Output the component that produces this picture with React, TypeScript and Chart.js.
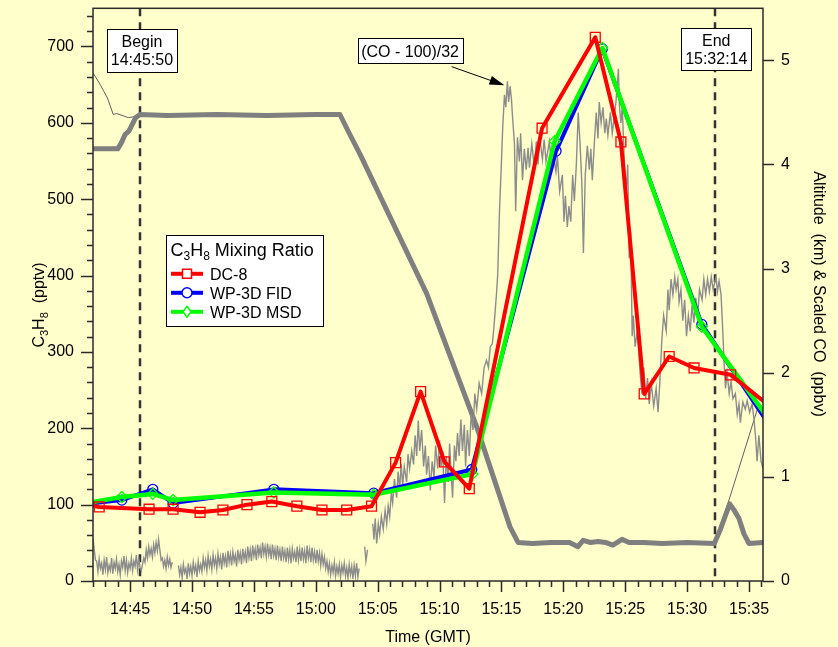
import React, { useEffect, useRef } from "react";
import { Chart, registerables } from "chart.js";

Chart.register(...registerables);

const FONT = '"Liberation Sans", Arial, Helvetica, sans-serif';
const BG = "#FFFFCC";

// Time axis: minutes after 14:00 GMT
const X_MIN = 42;
const X_MAX = 96.13;
const X_TICK_VALUES = [45, 50, 55, 60, 65, 70, 75, 80, 85, 90, 95];
const X_TICK_LABELS = ["14:45", "14:50", "14:55", "15:00", "15:05", "15:10", "15:15", "15:20", "15:25", "15:30", "15:35"];
const Y_MAX = 750;
const Y_TICK_VALUES = [0, 100, 200, 300, 400, 500, 600, 700];
const Y2_MAX = 5.5;
const Y2_TICK_VALUES = [0, 1, 2, 3, 4, 5];

const BEGIN_TIME = 45 + 50 / 60;
const BEGIN_LABEL = ["Begin", "14:45:50"];
const END_TIME = 92 + 14 / 60;
const END_LABEL = ["End", "15:32:14"];
const CO_LABEL = "(CO - 100)/32";

const SERIES_NAMES = ["DC-8", "WP-3D FID", "WP-3D MSD"];

// C3H8 mixing ratio (pptv)
const DC8_TIME = [41.5, 42.5, 46.53, 48.47, 50.65, 52.5, 54.44, 56.45, 58.47, 60.5, 62.5, 64.5, 66.45, 68.47, 70.4, 72.4, 78.28, 82.58, 84.65, 86.53, 88.55, 90.56, 93.52, 96.6];
const DC8_C3H8 = [100, 97, 94, 94, 90, 93, 100, 104, 98, 93, 93, 98, 155, 248, 156, 121, 593, 712, 575, 245, 294, 279, 270, 230];
const FID_TIME = [41.5, 44.33, 46.83, 48.47, 56.61, 64.68, 72.6, 79.41, 83.15, 91.19, 96.6];
const FID_C3H8 = [101, 106, 120, 102, 120, 115, 146, 563, 697, 336, 205];
const MSD_TIME = [41.5, 44.33, 46.83, 48.47, 56.61, 64.68, 72.65, 79.3, 83.15, 91.19, 96.6];
const MSD_C3H8 = [102, 110, 114, 106, 116, 113, 140, 576, 698, 333, 212];

// Altitude (km), thick trace
const ALT_TRACE: [number, number][] = [
  [42.0, 4.15], [44.0, 4.15], [44.3, 4.21], [44.6, 4.29], [44.9, 4.32], [45.15, 4.38], [45.45, 4.45], [45.8, 4.48],
  [48, 4.47], [52, 4.48], [56, 4.47], [60, 4.48], [61.95, 4.48], [62.7, 4.3], [63.57, 4.1], [68.96, 2.76],
  [73.0, 1.48], [75.69, 0.52], [76.34, 0.37], [77.5, 0.36], [79.0, 0.37], [80.5, 0.37], [81.18, 0.33], [81.6, 0.39],
  [82.2, 0.37], [82.8, 0.38], [83.4, 0.37], [84.0, 0.345], [84.74, 0.4], [85.3, 0.37], [86.5, 0.37], [88, 0.36],
  [90, 0.37], [92.2, 0.36], [92.7, 0.5], [93.44, 0.74], [93.8, 0.68], [94.19, 0.6], [94.6, 0.45], [95.0, 0.36], [96.13, 0.37],
];

// Second altitude trace (thin)
const ALT2_TRACE: [number, number | null][] = [
  [42.0, 4.88], [42.57, 4.77], [43.16, 4.64], [43.64, 4.48], [43.91, 4.49], [44.85, 4.45], [45.39, 4.46], [45.74, 4.48], [45.9, null],
  [92.2, 0.36], [93.39, 0.78], [95.65, 1.64], [95.8, 1.69],
];

// Scaled CO = (CO - 100)/32
const CO_TRACE: [number, number | null][] = [
  [42.0, 0.41], [42.1, 0.3], [42.2, 0.2],
  [42.3, 0.19], [42.4, 0.09], [42.5, 0.21], [42.6, 0.12], [42.7, 0.17], [42.8, 0.06], [42.9, 0.2], [43.0, 0.11], [43.1, 0.23], [43.2, 0.08],
  [43.3, 0.15], [43.4, 0.1], [43.5, 0.22], [43.6, 0.07], [43.7, 0.18], [43.8, 0.12], [43.9, 0.21], [44.0, 0.09], [44.1, 0.16], [44.2, 0.06],
  [44.3, 0.19], [44.4, 0.13], [44.5, 0.24], [44.6, 0.1], [44.7, 0.2], [44.8, 0.08], [44.9, 0.17], [45.0, 0.12], [45.1, 0.22], [45.2, 0.1],
  [45.3, 0.19], [45.4, 0.14], [45.5, 0.25], [45.6, 0.11], [45.7, 0.21], [45.8, 0.13],
  [45.9, 0.1], [46.0, 0.16], [46.1, 0.22], [46.2, 0.18], [46.3, 0.3], [46.4, 0.22], [46.5, 0.33], [46.6, 0.25], [46.7, 0.31], [46.8, 0.23],
  [46.9, 0.35], [47.0, 0.27], [47.1, 0.37], [47.2, 0.29], [47.3, 0.4], [47.4, 0.3], [47.5, 0.2], [47.6, 0.22], [47.7, 0.14], [47.8, 0.2],
  [47.9, 0.12], [48.0, 0.23], [48.1, 0.15], [48.2, 0.21], [48.3, 0.13], [48.4, 0.18], [48.5, null],
  [48.9, 0.15], [49.0, 0.06], [49.1, 0.13], [49.2, 0.03], [49.3, 0.16], [49.4, 0.08], [49.5, 0.12], [49.6, 0.02], [49.7, 0.17], [49.8, 0.07],
  [49.9, 0.14], [50.0, 0.05], [50.1, 0.18], [50.2, 0.09], [50.3, 0.15], [50.4, 0.04], [50.5, 0.19], [50.6, 0.1], [50.7, 0.16], [50.8, 0.09],
  [50.9, 0.22], [51.0, 0.13], [51.1, 0.2], [51.2, 0.1], [51.3, 0.24], [51.4, 0.14], [51.5, 0.21], [51.6, 0.11], [51.7, 0.25], [51.8, 0.15],
  [51.9, 0.22], [52.0, 0.12], [52.1, 0.26], [52.2, 0.16], [52.3, 0.23], [52.4, 0.11], [52.5, 0.27], [52.6, 0.17], [52.7, 0.24], [52.8, 0.13],
  [52.9, 0.29], [53.0, 0.18], [53.1, 0.26], [53.2, 0.15], [53.3, 0.28], [53.4, 0.19], [53.5, 0.25], [53.6, 0.14], [53.7, 0.3], [53.8, 0.2],
  [53.9, 0.27], [54.0, 0.16], [54.1, 0.31], [54.2, 0.21], [54.3, 0.28], [54.4, 0.17], [54.5, 0.33], [54.6, 0.22], [54.7, 0.3], [54.8, 0.19],
  [54.9, 0.34], [55.0, 0.24], [55.1, 0.31], [55.2, 0.2], [55.3, 0.35], [55.4, 0.25], [55.5, 0.32], [55.6, 0.22], [55.7, 0.37], [55.8, 0.26],
  [55.9, 0.33], [56.0, 0.23], [56.1, 0.36], [56.2, 0.25], [56.3, 0.32], [56.4, 0.21], [56.5, 0.35], [56.6, 0.24], [56.7, 0.31], [56.8, 0.2],
  [56.9, 0.34], [57.0, 0.23], [57.1, 0.3], [57.2, 0.19], [57.3, 0.33], [57.4, 0.22], [57.5, 0.29], [57.6, 0.18], [57.7, 0.32], [57.8, 0.21],
  [57.9, 0.3], [58.0, 0.17], [58.1, 0.31], [58.2, 0.22], [58.3, 0.28], [58.4, 0.18], [58.5, 0.33], [58.6, 0.2], [58.7, 0.3], [58.8, 0.19],
  [58.9, 0.32], [59.0, 0.21], [59.1, 0.29], [59.2, 0.17], [59.3, 0.34], [59.4, 0.22], [59.5, 0.3], [59.6, 0.18], [59.7, 0.32], [59.8, 0.2],
  [59.9, 0.28], [60.0, 0.17], [60.1, 0.3], [60.2, 0.19], [60.3, 0.27], [60.4, 0.15], [60.5, 0.26], [60.6, 0.16], [60.7, 0.23], [60.8, 0.12],
  [60.9, 0.19], [61.0, 0.09], [61.1, 0.17], [61.2, 0.06], [61.3, 0.15], [61.4, 0.08], [61.5, 0.18], [61.6, 0.05], [61.7, 0.14], [61.8, 0.07],
  [61.9, 0.16], [62.0, 0.04], [62.1, 0.15], [62.2, 0.08], [62.3, 0.17], [62.4, 0.05], [62.5, 0.13], [62.6, 0.03], [62.7, 0.16], [62.8, 0.06],
  [62.9, 0.14], [63.0, 0.02], [63.1, 0.15], [63.2, 0.05], [63.3, 0.17], [63.4, 0.04], [63.5, 0.12], [63.7, null],
  [63.95, 0.33], [64.05, 0.19], [64.18, 0.3], [64.35, null],
  [64.6, 0.55], [64.7, 0.4], [64.8, 0.6], [64.92, 0.36], [65.05, 0.55], [65.16, 0.45], [65.3, 0.62], [65.45, 0.5], [65.6, 0.68], [65.73, 0.55],
  [65.85, 0.72], [65.97, 0.62], [66.1, 0.85], [66.21, 0.75], [66.35, 0.98], [66.53, 0.8], [66.65, 1.05], [66.77, 0.88], [66.9, 1.12], [67.02, 0.92],
  [67.15, 1.1], [67.34, 0.95], [67.45, 1.22], [67.58, 1.08], [67.75, 1.25], [67.9, 1.12], [68.02, 1.4], [68.15, 1.2], [68.28, 1.54], [68.39, 1.25],
  [68.55, 1.45], [68.71, 1.1], [68.85, 1.3], [68.95, 1.02], [69.1, 1.2], [69.25, 0.87], [69.4, 1.15], [69.55, 1.0], [69.68, 1.3], [69.85, 1.08],
  [70.0, 1.35], [70.12, 1.1], [70.25, 1.25], [70.4, 0.75], [70.55, 1.2], [70.7, 0.95], [70.81, 1.32], [70.95, 1.0], [71.05, 0.8], [71.2, 1.3],
  [71.32, 1.15], [71.45, 1.42], [71.58, 1.2], [71.72, 1.55], [71.85, 1.25], [72.0, 1.5], [72.1, 1.1], [72.25, 1.45], [72.4, 1.2], [72.55, 1.6],
  [72.7, 1.45], [72.85, 1.8], [73.0, 1.65], [73.2, 1.9], [73.4, 1.8], [73.6, 2.05], [73.79, 2.12], [73.95, 2.05], [74.1, 2.25], [74.27, 2.28],
  [74.4, 2.45], [74.6, 2.76], [74.7, 2.95], [74.84, 3.55], [75.0, 4.03], [75.1, 4.35], [75.24, 4.67], [75.35, 4.55], [75.48, 4.8], [75.58, 4.6],
  [75.7, 4.75], [75.81, 4.62], [75.9, 4.45], [76.05, 4.2], [76.15, 3.55], [76.29, 4.26], [76.45, 4.03], [76.55, 4.3], [76.7, 3.85], [76.85, 4.15],
  [77.0, 3.95], [77.15, 4.16], [77.26, 3.97], [77.45, 4.2], [77.65, 3.98], [77.82, 4.22], [77.95, 4.0], [78.1, 4.25], [78.31, 4.05], [78.45, 4.24],
  [78.6, 4.03], [78.87, 4.22], [79.0, 4.05], [79.19, 4.1], [79.4, 3.93], [79.52, 4.08], [79.7, 3.74], [79.92, 3.9], [80.05, 3.45], [80.16, 3.7],
  [80.32, 3.4], [80.45, 3.6], [80.6, 3.45], [80.75, 3.9], [80.89, 3.65], [81.05, 4.0], [81.2, 4.5], [81.35, 4.2], [81.5, 3.8], [81.62, 3.15],
  [81.77, 3.9], [81.94, 4.18], [82.1, 3.95], [82.22, 4.15], [82.34, 3.85], [82.5, 4.2], [82.66, 4.5], [82.8, 4.25], [82.9, 4.6], [83.05, 4.4],
  [83.2, 4.55], [83.35, 4.3], [83.47, 4.44], [83.6, 4.28], [83.8, 4.5], [83.95, 4.3], [84.1, 4.45], [84.25, 4.6], [84.45, 4.92], [84.52, 4.58],
  [84.65, 4.4], [84.76, 4.55], [84.92, 4.05], [85.08, 3.75], [85.2, 4.0], [85.32, 3.1], [85.44, 3.35], [85.56, 2.35], [85.65, 2.55], [85.8, 2.25],
  [85.97, 2.4], [86.2, 2.0], [86.35, 1.8], [86.5, 2.05], [86.65, 1.75], [86.8, 1.95], [86.94, 1.7], [87.1, 1.9], [87.3, 1.68], [87.5, 1.85],
  [87.65, 1.62], [87.8, 1.92], [87.95, 2.3], [88.1, 2.55], [88.31, 2.4], [88.45, 2.8], [88.55, 2.6], [88.7, 2.9], [88.85, 2.75], [89.0, 2.92],
  [89.11, 2.8], [89.25, 2.9], [89.35, 2.68], [89.5, 2.8], [89.65, 2.5], [89.8, 2.7], [89.95, 2.35], [90.1, 2.55], [90.25, 2.4], [90.4, 2.65],
  [90.55, 2.48], [90.7, 2.72], [90.85, 2.55], [91.0, 2.8], [91.21, 2.7], [91.35, 2.9], [91.5, 2.75], [91.65, 2.9], [91.8, 2.78], [91.95, 2.92],
  [92.1, 2.8], [92.34, 2.92], [92.45, 2.78], [92.58, 2.88], [92.74, 2.75], [92.9, 2.35], [92.98, 2.1], [93.1, 1.85], [93.23, 2.0], [93.4, 1.8],
  [93.55, 1.92], [93.7, 1.75], [93.9, 1.8], [94.05, 1.6], [94.19, 1.7], [94.3, 1.52], [94.5, 1.72], [94.7, 1.65], [94.85, 1.73], [95.05, 1.62],
  [95.25, 1.7], [95.4, 1.56], [95.55, 1.35], [95.65, 1.15], [95.8, 1.4], [95.97, 1.15], [96.13, 1.08],
];

const RED = "#FF0000";
const BLUE = "#0000FF";
const GREEN = "#00FF00";
const AXIS = "#2a2a2a";

const pts = (t: number[], v: number[]) => t.map((x, i) => ({ x, y: v[i] }));
const tracePts = (tr: [number, number | null][]) => tr.map(([x, y]) => ({ x, y }));

type Part = { t: string; size: number; dy?: number };
function richWidth(ctx: CanvasRenderingContext2D, parts: Part[]) {
  let w = 0;
  for (const p of parts) {
    ctx.font = `${p.size}px ${FONT}`;
    w += ctx.measureText(p.t).width;
  }
  return w;
}
function drawRich(ctx: CanvasRenderingContext2D, parts: Part[], x: number, y: number) {
  let cx = x;
  ctx.textAlign = "left";
  ctx.textBaseline = "alphabetic";
  for (const p of parts) {
    ctx.font = `${p.size}px ${FONT}`;
    ctx.fillText(p.t, cx, y + (p.dy || 0));
    cx += ctx.measureText(p.t).width;
  }
}

function drawMarker(ctx: CanvasRenderingContext2D, kind: number, cx: number, cy: number) {
  ctx.beginPath();
  if (kind === 0) ctx.rect(cx - 4.5, cy - 4.5, 9, 9);
  else if (kind === 1) ctx.arc(cx, cy, 5, 0, Math.PI * 2);
  else {
    ctx.moveTo(cx, cy - 5.5);
    ctx.lineTo(cx + 4, cy);
    ctx.lineTo(cx, cy + 5.5);
    ctx.lineTo(cx - 4, cy);
    ctx.closePath();
  }
  ctx.fillStyle = "#fff";
  ctx.fill();
  ctx.stroke();
}

const fixBox = (w: number | null, h: number | null) => (s: any) => {
  if (w !== null) s.width = w;
  if (h !== null) s.height = h;
  s.paddingTop = 0;
  s.paddingBottom = 0;
  s.paddingLeft = 0;
  s.paddingRight = 0;
};

const overlayPlugin = {
  id: "overlay",
  beforeDraw(chart: any) {
    const { ctx, width, height } = chart;
    ctx.save();
    ctx.fillStyle = BG;
    ctx.fillRect(0, 0, width, height);
    ctx.restore();
  },
  beforeDatasetsDraw(chart: any) {
    const { ctx, chartArea: ca } = chart;
    const xs = chart.scales.x;
    ctx.save();
    ctx.strokeStyle = "#333";
    ctx.lineWidth = 2.5;
    ctx.setLineDash([8, 6]);
    for (const t of [BEGIN_TIME, END_TIME]) {
      const x = Math.round(xs.getPixelForValue(t));
      ctx.beginPath();
      ctx.moveTo(x, ca.top);
      ctx.lineTo(x, ca.bottom);
      ctx.stroke();
    }
    ctx.restore();
  },
  afterDraw(chart: any) {
    const { ctx, chartArea: ca } = chart;
    const xs = chart.scales.x;
    const ys = chart.scales.y;
    const y2 = chart.scales.y2;
    ctx.save();
    // frame
    ctx.strokeStyle = AXIS;
    ctx.lineWidth = 1.5;
    ctx.strokeRect(ca.left, ca.top, ca.right - ca.left, ca.bottom - ca.top);
    // ticks
    ctx.beginPath();
    for (let m = Math.ceil(X_MIN); m <= X_MAX; m++) {
      const x = Math.round(xs.getPixelForValue(m)) + 0.5;
      const len = m % 5 === 0 ? 11 : 6;
      ctx.moveTo(x, ca.bottom);
      ctx.lineTo(x, ca.bottom + len);
    }
    for (let v = 0; v <= Y_MAX; v += 20) {
      const y = Math.round(ys.getPixelForValue(v)) + 0.5;
      const len = v % 100 === 0 ? 12 : 6;
      ctx.moveTo(ca.left, y);
      ctx.lineTo(ca.left - len, y);
    }
    for (const v of Y2_TICK_VALUES) {
      const y = Math.round(y2.getPixelForValue(v)) + 0.5;
      ctx.moveTo(ca.right, y);
      ctx.lineTo(ca.right + 11, y);
    }
    ctx.stroke();

    // annotation boxes
    const box = (cx: number, top: number, w: number, h: number, lines: string[], base: number[]) => {
      ctx.fillStyle = "#fff";
      ctx.fillRect(cx - w / 2, top, w, h);
      ctx.strokeStyle = "#000";
      ctx.lineWidth = 1;
      ctx.strokeRect(Math.round(cx - w / 2) + 0.5, Math.round(top) + 0.5, w, h);
      ctx.fillStyle = "#000";
      ctx.font = `16px ${FONT}`;
      ctx.textAlign = "center";
      ctx.textBaseline = "alphabetic";
      lines.forEach((l, i) => ctx.fillText(l, cx, top + base[i]));
    };
    box(xs.getPixelForValue(BEGIN_TIME) + 1.5, ca.top + 21, 70, 43, BEGIN_LABEL, [18, 36]);
    box(xs.getPixelForValue(END_TIME) + 1.5, ca.top + 20, 70, 42, END_LABEL, [17.5, 36]);
    const coCx = xs.getPixelForValue(67.62);
    const coCy = y2.getPixelForValue(5.09);
    box(coCx, coCy - 12.5, 105, 25, [CO_LABEL], [19]);

    // arrow
    const ax0 = xs.getPixelForValue(70.97), ay0 = y2.getPixelForValue(4.94);
    const ax1 = xs.getPixelForValue(75.24), ay1 = y2.getPixelForValue(4.76);
    const ang = Math.atan2(ay1 - ay0, ax1 - ax0);
    ctx.strokeStyle = "#000";
    ctx.lineWidth = 1;
    ctx.beginPath();
    ctx.moveTo(ax0, ay0);
    ctx.lineTo(ax1 - 10 * Math.cos(ang), ay1 - 10 * Math.sin(ang));
    ctx.stroke();
    ctx.beginPath();
    ctx.moveTo(ax1, ay1);
    ctx.lineTo(ax1 - 15 * Math.cos(ang) + 4.5 * Math.sin(ang), ay1 - 15 * Math.sin(ang) - 4.5 * Math.cos(ang));
    ctx.lineTo(ax1 - 15 * Math.cos(ang) - 4.5 * Math.sin(ang), ay1 - 15 * Math.sin(ang) + 4.5 * Math.cos(ang));
    ctx.closePath();
    ctx.fillStyle = "#000";
    ctx.fill();

    // legend
    const lx = ca.left + 73, ly = ca.top + 227;
    ctx.fillStyle = "#fff";
    ctx.fillRect(lx, ly, 157, 91);
    ctx.strokeStyle = "#000";
    ctx.lineWidth = 1;
    ctx.strokeRect(Math.round(lx) + 0.5, Math.round(ly) + 0.5, 157, 91);
    ctx.fillStyle = "#000";
    drawRich(ctx, [
      { t: "C", size: 18 }, { t: "3", size: 12, dy: 4 }, { t: "H", size: 18 }, { t: "8", size: 12, dy: 4 }, { t: " Mixing Ratio", size: 18 },
    ], lx + 4.5, ly + 21);
    const cols = [RED, BLUE, GREEN];
    SERIES_NAMES.forEach((name, i) => {
      const cy = ly + 38.5 + i * 19;
      ctx.strokeStyle = cols[i];
      ctx.lineWidth = 4;
      ctx.beginPath();
      ctx.moveTo(lx + 5, cy);
      ctx.lineTo(lx + 37, cy);
      ctx.stroke();
      ctx.lineWidth = 1.5;
      drawMarker(ctx, i, lx + 21, cy);
      ctx.fillStyle = "#000";
      ctx.font = `16px ${FONT}`;
      ctx.textAlign = "left";
      ctx.textBaseline = "alphabetic";
      ctx.fillText(name, lx + 44, cy + 6);
    });

    // axis titles
    ctx.fillStyle = "#000";
    ctx.font = `16px ${FONT}`;
    ctx.textAlign = "center";
    ctx.textBaseline = "alphabetic";
    ctx.fillText("Time (GMT)", (ca.left + ca.right) / 2, ca.bottom + 61);

    ctx.save();
    ctx.translate(38, 305);
    ctx.rotate(-Math.PI / 2);
    const lt: Part[] = [
      { t: "C", size: 16 }, { t: "3", size: 11, dy: 4 }, { t: "H", size: 16 }, { t: "8", size: 11, dy: 4 }, { t: "  (pptv)", size: 16 },
    ];
    drawRich(ctx, lt, -richWidth(ctx, lt) / 2, 6);
    ctx.restore();

    ctx.save();
    ctx.translate(820, 294);
    ctx.rotate(Math.PI / 2);
    ctx.font = `16px ${FONT}`;
    ctx.textAlign = "center";
    ctx.fillText("Altitude  (km) & Scaled CO  (ppbv)", 0, 6);
    ctx.restore();

    ctx.restore();
  },
};

export default function App() {
  const ref = useRef<HTMLCanvasElement | null>(null);
  useEffect(() => {
    if (!ref.current) return;
    const tickFont = { family: FONT, size: 16 };
    const chart = new Chart(ref.current, {
      type: "line",
      data: {
        datasets: [
          {
            label: SERIES_NAMES[0], data: pts(DC8_TIME, DC8_C3H8), yAxisID: "y",
            borderColor: RED, borderWidth: 4, pointStyle: "rect", pointRadius: 7,
            pointBorderColor: RED, pointBackgroundColor: "rgba(0,0,0,0)", pointBorderWidth: 1.3,
            borderJoinStyle: "round",
          },
          {
            label: SERIES_NAMES[2], data: pts(MSD_TIME, MSD_C3H8), yAxisID: "y",
            borderColor: GREEN, borderWidth: 4.5, pointStyle: "rectRot", pointRadius: 5.5,
            pointBorderColor: GREEN, pointBackgroundColor: "rgba(0,0,0,0)", pointBorderWidth: 1.3,
            borderJoinStyle: "round",
          },
          {
            label: SERIES_NAMES[1], data: pts(FID_TIME, FID_C3H8), yAxisID: "y",
            borderColor: BLUE, borderWidth: 4, pointStyle: "circle", pointRadius: 5,
            pointBorderColor: BLUE, pointBackgroundColor: "rgba(0,0,0,0)", pointBorderWidth: 1.3,
            borderJoinStyle: "round",
          },
          {
            label: "CO", data: tracePts(CO_TRACE), yAxisID: "y2",
            borderColor: "#8c8c8c", borderWidth: 1.4, pointRadius: 0,
          },
          {
            label: "Altitude", data: tracePts(ALT_TRACE), yAxisID: "y2",
            borderColor: "#7f7f7f", borderWidth: 5, pointRadius: 0, borderJoinStyle: "round", borderCapStyle: "round",
          },
          {
            label: "Altitude 2", data: tracePts(ALT2_TRACE), yAxisID: "y2",
            borderColor: "#606060", borderWidth: 1, pointRadius: 0,
          },
        ],
      },
      options: {
        responsive: false,
        animation: false,
        devicePixelRatio: 1,
        layout: { padding: { top: 7, left: 0, right: 0, bottom: 0 } },
        plugins: { legend: { display: false }, tooltip: { enabled: false }, title: { display: false } },
        elements: { line: { tension: 0 } },
        scales: {
          x: {
            type: "linear", min: X_MIN, max: X_MAX,
            afterBuildTicks: (s: any) => { s.ticks = X_TICK_VALUES.map((value) => ({ value })); },
            afterFit: fixBox(null, 66),
            grid: { display: false, drawTicks: false },
            border: { display: false },
            ticks: {
              padding: 19, color: "#000", font: tickFont, maxRotation: 0, autoSkip: false,
              callback: (v: any) => { const i = X_TICK_VALUES.indexOf(Number(v)); return i >= 0 ? X_TICK_LABELS[i] : ""; },
            },
          },
          y: {
            type: "linear", position: "left", min: 0, max: Y_MAX,
            afterBuildTicks: (s: any) => { s.ticks = Y_TICK_VALUES.map((value) => ({ value })); },
            afterFit: fixBox(93, null),
            grid: { display: false, drawTicks: false },
            border: { display: false },
            ticks: { padding: 19, color: "#000", font: tickFont, callback: (v: any) => String(v) },
          },
          y2: {
            type: "linear", position: "right", min: 0, max: Y2_MAX,
            afterBuildTicks: (s: any) => { s.ticks = Y2_TICK_VALUES.map((value) => ({ value })); },
            afterFit: fixBox(75, null),
            grid: { display: false, drawTicks: false },
            border: { display: false },
            ticks: { padding: 18, color: "#000", font: tickFont, callback: (v: any) => String(v) },
          },
        },
      },
      plugins: [overlayPlugin],
    } as any);
    return () => chart.destroy();
  }, []);
  return (
    <div style={{ position: "fixed", left: 0, top: 0, width: 838, height: 647, background: BG }}>
      <canvas ref={ref} width={838} height={647} style={{ display: "block", width: 838, height: 647 }} />
    </div>
  );
}
